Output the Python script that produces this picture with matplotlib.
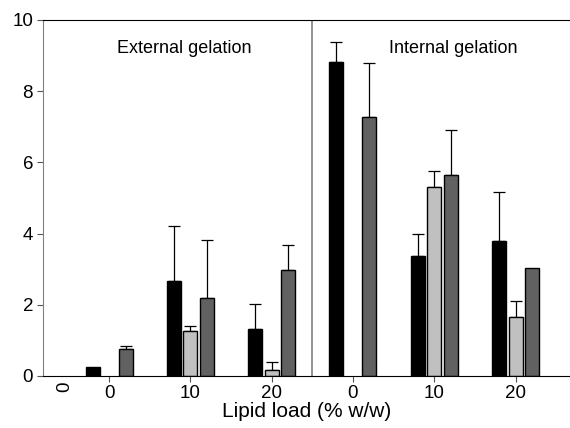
import matplotlib
matplotlib.use("Agg")
import matplotlib.pyplot as plt
import numpy as np

plt.rcParams['font.family'] = ['Liberation Sans', 'DejaVu Sans']

groups = ["0", "10", "20", "0", "10", "20"]
black_vals = [0.25, 2.68, 1.32, 8.83, 3.38, 3.78]
black_err = [0.0, 1.54, 0.70, 0.55, 0.62, 1.39]
light_vals = [0.0, 1.25, 0.17, 0.0, 5.32, 1.67]
light_err = [0.0, 0.15, 0.21, 0.0, 0.43, 0.43]
dark_vals = [0.77, 2.20, 2.97, 7.27, 5.65, 3.02]
dark_err = [0.07, 1.62, 0.70, 1.53, 1.25, 0.0]

colors = ["#000000", "#c0c0c0", "#616161"]

fig = plt.figure(figsize=(5.7, 4.28), dpi=100)
ax = fig.add_axes([0.0763, 0.1215, 0.9237, 0.832])

x = np.arange(len(groups))
w = 0.172
off = 0.203
for vals, errs, c, dx in [(black_vals, black_err, colors[0], -off),
                          (light_vals, light_err, colors[1], 0.0),
                          (dark_vals, dark_err, colors[2], off)]:
    v = np.array(vals)
    e = np.array(errs)
    mask = v > 0
    ax.bar(x[mask] + dx, v[mask], width=w, color=c, edgecolor="black", linewidth=1.0, zorder=2)
    em = mask & (e > 0)
    ax.errorbar(x[em] + dx, v[em], yerr=[np.zeros(em.sum()), e[em]], fmt="none",
                ecolor="black", elinewidth=0.9, capsize=4.3, capthick=0.9, zorder=1)

ax.set_xlim(-0.806, 5.67)
ax.set_ylim(0, 10)
ax.set_yticks([0, 2, 4, 6, 8, 10])
ax.set_xticks(x)
ax.set_xticklabels(groups)
ax.tick_params(axis="both", labelsize=13.5, direction="out", length=4, color="#555555")
ax.tick_params(axis="x", pad=2.5)
ax.spines["right"].set_visible(False)
ax.spines["left"].set_color("#808080")
ax.spines["top"].set_color("black")
ax.spines["bottom"].set_color("black")
ax.axvline(2.5, color="#808080", linewidth=1.2, zorder=0)

ax.text(0.92, 9.2, "External gelation", ha="center", va="center", fontsize=13)
ax.text(4.24, 9.2, "Internal gelation", ha="center", va="center", fontsize=13)
ax.text(-0.54, -0.3, "0", rotation=90, ha="center", va="center", fontsize=13.5)
ax.set_xlabel("Lipid load (% w/w)", fontsize=15, labelpad=0)

fig.savefig("out.png", dpi=100)
